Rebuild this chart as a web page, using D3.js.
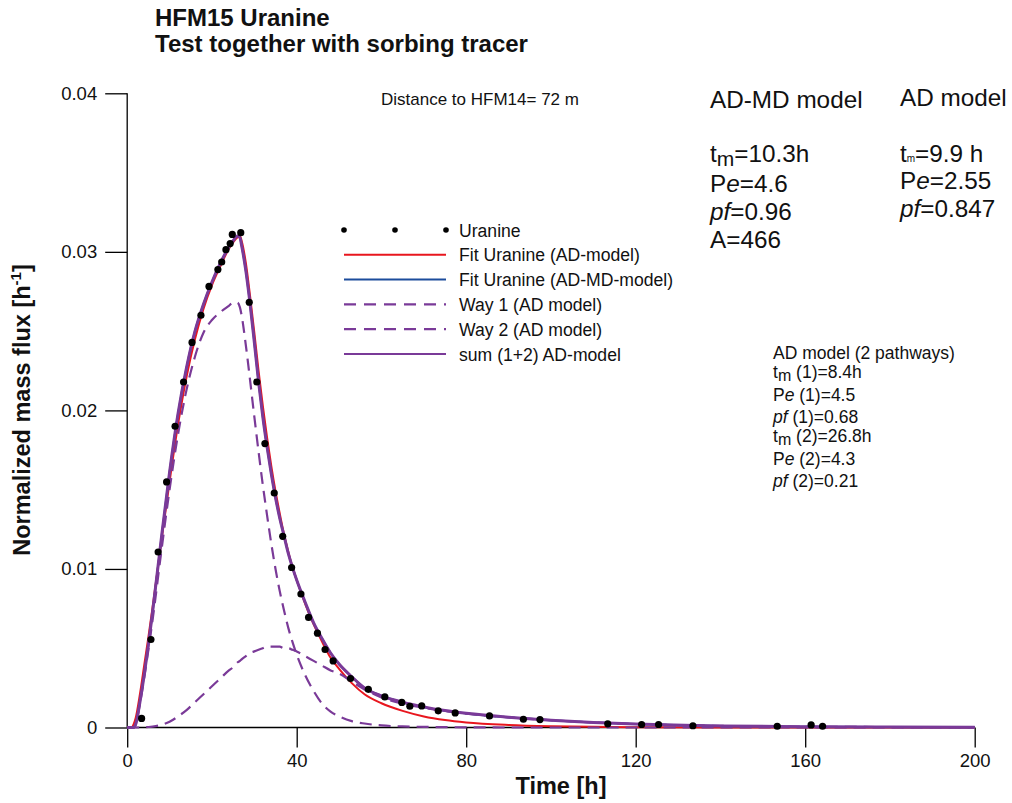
<!DOCTYPE html>
<html>
<head>
<meta charset="utf-8">
<script src="https://cdn.jsdelivr.net/npm/d3@7"></script>
<style>
  html, body { margin: 0; padding: 0; background: #fff; }
  svg { display: block; font-family: Arial, "Liberation Sans", sans-serif; }
</style>
</head>
<body>
<svg id="chart" width="1012" height="803"></svg>
<script>
// Measured uranine breakthrough (time in h, normalized mass flux in 1/h)
const obsTime = [3.4, 5.6, 7.3, 9.3, 11.3, 13.3, 15.3, 17.4, 19.3, 21.4, 22.3, 23.3, 24.3, 24.8, 26.8,
  28.8, 30.6, 32.5, 34.7, 36.7, 38.8, 41.0, 42.8, 44.9, 46.7, 48.6, 52.7, 56.9, 60.8, 64.8,
  66.7, 69.5, 73.4, 77.4, 85.5, 93.5, 97.4, 113.4, 121.4, 125.4, 133.5, 153.4, 161.4, 164.1];
const obsFlux = [0.00057, 0.00555, 0.01107, 0.01549, 0.0190, 0.02179, 0.02429, 0.0260, 0.02782, 0.02888,
  0.02936, 0.03014, 0.03052, 0.0311, 0.03121, 0.02682, 0.02179, 0.01791, 0.01479, 0.01206, 0.01009,
  0.00842, 0.00694, 0.00595, 0.00492, 0.0042, 0.00309, 0.00241, 0.00193, 0.00158, 0.00134, 0.00136,
  0.00105, 0.00092, 0.00073, 0.00052, 0.0005, 0.00023, 0.00019, 0.00019, 0.00011, 0.00008, 0.00016, 0.00008];

// Model curves, sampled on a common time grid (h)
const modelTime = [0, 1, 1.5, 2, 3, 4, 5, 6, 8, 10, 12, 14, 16, 18, 20, 22, 24, 25, 26, 26.6, 27, 28, 29, 30,
  31, 32, 33, 34, 35, 36, 37, 38, 39, 40, 42, 44, 46, 48, 50, 53, 56, 60, 65, 70, 75, 80, 90, 100,
  110, 120, 140, 160, 180, 200];
const fitAD = [0, 0, 0.0002, 0.0006, 0.0021, 0.0039, 0.0057, 0.0076, 0.0116, 0.0155, 0.0191, 0.0221, 0.0245,
  0.0264, 0.0279, 0.0291, 0.0302, 0.0306, 0.0309, 0.0310, 0.0307, 0.0293, 0.0272, 0.0249, 0.0225, 0.0203,
  0.0183, 0.0165, 0.0149, 0.0135, 0.0122, 0.0111, 0.0101, 0.0093, 0.0078, 0.0065, 0.0054, 0.0044, 0.0037,
  0.0028, 0.0021, 0.00153, 0.00105, 0.0007, 0.00047, 0.00032, 0.00016, 0.00008, 0.00004, 0.00002, 0, 0, 0, 0];
const fitADMD = [0, 0, 0, 0.0002, 0.0016, 0.0033, 0.0052, 0.0073, 0.0118, 0.0161, 0.0198, 0.0227, 0.0250,
  0.0267, 0.0281, 0.0293, 0.0303, 0.0307, 0.0310, 0.0309, 0.0304, 0.0288, 0.0267, 0.0243, 0.0218, 0.0196,
  0.0177, 0.0160, 0.0145, 0.0132, 0.0121, 0.0110, 0.0101, 0.0093, 0.0079, 0.0066, 0.0056, 0.0047, 0.0040,
  0.0032, 0.0025, 0.0020, 0.00158, 0.00128, 0.00105, 0.00089, 0.00064, 0.00046, 0.00032, 0.00022,
  0.0001, 0.00005, 0.00003, 0.00002];
const way1 = [0, 0, 0, 0.0002, 0.0015, 0.0031, 0.0049, 0.0068, 0.0110, 0.0150, 0.0185, 0.0213, 0.0234,
  0.0249, 0.0257, 0.0262, 0.0266, 0.0268, 0.0268, 0.0265, 0.0260, 0.0241, 0.0219, 0.0196, 0.0174, 0.0153,
  0.0134, 0.0116, 0.0100, 0.0086, 0.0074, 0.0063, 0.0054, 0.0046, 0.0033, 0.0023, 0.0015, 0.0010, 0.0007,
  0.0004, 0.00025, 0.00013, 0.00007, 0.00004, 0.00002, 0.00001, 0, 0, 0, 0, 0, 0, 0, 0];
const way2 = [0, 0, 0, 0, 0, 0.00001, 0.00003, 0.00006, 0.00016, 0.00036, 0.0007, 0.0011, 0.0016, 0.0021,
  0.0026, 0.0031, 0.0036, 0.0038, 0.0041, 0.0042, 0.0043, 0.0045, 0.0047, 0.0048, 0.0049, 0.0050, 0.0051,
  0.0051, 0.0051, 0.0051, 0.0050, 0.0050, 0.0049, 0.0048, 0.0045, 0.0042, 0.0039, 0.0036, 0.0034, 0.0029,
  0.0024, 0.0019, 0.0015, 0.00125, 0.00104, 0.00088, 0.00064, 0.00046, 0.00032, 0.00022, 0.0001, 0.00005,
  0.00003, 0.00002];
const sum12 = [0, 0, 0, 0.0002, 0.0016, 0.0033, 0.0052, 0.0073, 0.0118, 0.0161, 0.0198, 0.0227, 0.0250,
  0.0267, 0.0281, 0.0293, 0.0303, 0.0307, 0.0310, 0.0309, 0.0304, 0.0288, 0.0267, 0.0243, 0.0218, 0.0196,
  0.0177, 0.0160, 0.0145, 0.0132, 0.0121, 0.0110, 0.0101, 0.0093, 0.0079, 0.0066, 0.0056, 0.0047, 0.0040,
  0.0032, 0.0025, 0.0020, 0.00160, 0.00130, 0.00107, 0.00090, 0.00065, 0.00046, 0.00032, 0.00022,
  0.0001, 0.00005, 0.00003, 0.00002];

// Axis ticks
const xMajorTicks = [0, 40, 80, 120, 160, 200];
const xMinorTicks = [20, 60, 100, 140, 180];
const yMajorTicks = [0, 0.01, 0.02, 0.03, 0.04];
const yMinorTicks = [0.005, 0.015, 0.025, 0.035];
const yTickLabels = ["0", "0.01", "0.02", "0.03", "0.04"];

const legendLabels = ["Uranine", "Fit Uranine (AD-model)", "Fit Uranine (AD-MD-model)",
  "Way 1 (AD model)", "Way 2 (AD model)", "sum (1+2) AD-model"];

const RED = "#e8161e", BLUE = "#1c4c9c", PURPLE = "#7a3a98";

const svg = d3.select("#chart");
const x = d3.scaleLinear().domain([0, 200]).range([127.2, 974.7]);
const y = d3.scaleLinear().domain([0, 0.04]).range([727.5, 93.3]);

// ---- axes ----
const axisFont = "18.5px";
const gx = svg.append("g").attr("transform", `translate(0,${y(0)})`);
gx.call(d3.axisBottom(x).tickValues(xMinorTicks).tickSize(10).tickFormat(""));
gx.call(d3.axisBottom(x).tickValues(xMajorTicks).tickSize(20).tickPadding(6).tickFormat(d3.format("d")));
gx.selectAll(".domain").remove();
gx.append("line").attr("x1", x(0)).attr("x2", x(200)).attr("stroke", "#000").attr("stroke-width", 1.3);

const gy = svg.append("g").attr("transform", `translate(${x(0)},0)`);
gy.call(d3.axisLeft(y).tickValues(yMinorTicks).tickSize(10).tickFormat(""));
gy.call(d3.axisLeft(y).tickValues(yMajorTicks).tickSize(22).tickPadding(8)
  .tickFormat((d, i) => yTickLabels[i]));
gy.selectAll(".domain").remove();
gy.append("line").attr("y1", y(0)).attr("y2", y(0.04)).attr("stroke", "#000").attr("stroke-width", 1.3);

svg.selectAll(".tick line").attr("stroke", "#000").attr("stroke-width", 1.3);
svg.selectAll(".tick text").attr("font-size", axisFont).attr("fill", "#111")
  .attr("font-family", "Arial, 'Liberation Sans', sans-serif");

// ---- curves ----
const line = vals => d3.line()
  .x((d, i) => x(modelTime[i]))
  .y(d => y(d))
  .curve(d3.curveMonotoneX)(vals);

const plot = svg.append("g");
plot.append("path").attr("d", line(fitAD)).attr("fill", "none").attr("stroke", RED).attr("stroke-width", 2);
plot.append("path").attr("d", line(fitADMD)).attr("fill", "none").attr("stroke", BLUE).attr("stroke-width", 2);
plot.append("path").attr("d", line(way1)).attr("fill", "none").attr("stroke", PURPLE)
  .attr("stroke-width", 2.2).attr("stroke-dasharray", "12,7");
plot.append("path").attr("d", line(way2)).attr("fill", "none").attr("stroke", PURPLE)
  .attr("stroke-width", 2.2).attr("stroke-dasharray", "12,7");
plot.append("path").attr("d", line(sum12)).attr("fill", "none").attr("stroke", PURPLE).attr("stroke-width", 3);

plot.selectAll("circle.obs").data(obsTime).enter().append("circle")
  .attr("class", "obs")
  .attr("cx", d => x(d))
  .attr("cy", (d, i) => y(obsFlux[i]))
  .attr("r", 3.6).attr("fill", "#000");

// ---- legend ----
const lg = svg.append("g");
const lgX0 = 344, lgX1 = 446, lgY0 = 230, lgDY = 24.8;
lg.selectAll("circle").data([lgX0, 395, lgX1]).enter().append("circle")
  .attr("cx", d => d).attr("cy", lgY0).attr("r", 2.8).attr("fill", "#000");
const lgStyles = [null,
  { c: RED, w: 2, dash: null },
  { c: BLUE, w: 2, dash: null },
  { c: PURPLE, w: 2.2, dash: "12,8" },
  { c: PURPLE, w: 2.2, dash: "12,8" },
  { c: PURPLE, w: 2.2, dash: null }];
lgStyles.forEach((s, i) => {
  if (!s) return;
  lg.append("line").attr("x1", lgX0).attr("x2", lgX1)
    .attr("y1", lgY0 + i * lgDY).attr("y2", lgY0 + i * lgDY)
    .attr("stroke", s.c).attr("stroke-width", s.w)
    .attr("stroke-dasharray", s.dash);
});
lg.selectAll("text").data(legendLabels).enter().append("text")
  .attr("x", 459).attr("y", (d, i) => lgY0 + i * lgDY + 6.5)
  .attr("font-size", "17.6px").attr("fill", "#111").text(d => d);

// ---- titles ----
svg.append("text").attr("x", 155).attr("y", 26).attr("font-size", "24px").attr("font-weight", "bold")
  .attr("fill", "#111").text("HFM15 Uranine");
svg.append("text").attr("x", 155).attr("y", 52).attr("font-size", "24px").attr("font-weight", "bold")
  .attr("fill", "#111").text("Test together with sorbing tracer");

svg.append("text").attr("x", 561).attr("y", 794).attr("text-anchor", "middle")
  .attr("font-size", "23.5px").attr("font-weight", "bold").attr("fill", "#111").text("Time [h]");

const yt = svg.append("text").attr("transform", "translate(30,410) rotate(-90)")
  .attr("text-anchor", "middle").attr("font-size", "23.5px").attr("font-weight", "bold").attr("fill", "#111");
yt.append("tspan").text("Normalized mass flux [h");
yt.append("tspan").attr("font-size", "15px").attr("dy", -9).text("-1");
yt.append("tspan").attr("dy", 9).text("]");

svg.append("text").attr("x", 381).attr("y", 105).attr("font-size", "17px").attr("fill", "#111")
  .text("Distance to HFM14= 72 m");

// ---- parameter annotations ----
function richLine(xp, yp, size, parts) {
  const t = svg.append("text").attr("x", xp).attr("y", yp).attr("font-size", size + "px").attr("fill", "#111");
  parts.forEach(p => {
    const s = t.append("tspan").text(p.t);
    if (p.i) s.attr("font-style", "italic");
    if (p.dy) s.attr("dy", p.dy);
    if (p.fs) s.attr("font-size", p.fs + "px");
  });
  return t;
}

// AD-MD model
const colSize = 24.3;
richLine(710, 108, colSize, [{ t: "AD-MD model" }]);
richLine(710, 162, colSize, [{ t: "t" }, { t: "m", dy: 4, fs: 21 }, { t: "=10.3h", dy: -4 }]);
richLine(710, 192, colSize, [{ t: "P" }, { t: "e", i: true }, { t: "=4.6" }]);
richLine(710, 220, colSize, [{ t: "pf", i: true }, { t: "=0.96" }]);
richLine(710, 248, colSize, [{ t: "A=466" }]);

// AD model
richLine(900, 106, colSize, [{ t: "AD model" }]);
richLine(900, 162, colSize, [{ t: "t" }, { t: "m", fs: 10 }, { t: "=9.9 h" }]);
richLine(900, 189, colSize, [{ t: "P" }, { t: "e", i: true }, { t: "=2.55" }]);
richLine(900, 217, colSize, [{ t: "pf", i: true }, { t: "=0.847" }]);

// AD model, two pathways
const pwX = 773, pwSize = 17.5;
richLine(pwX, 359, pwSize, [{ t: "AD model (2 pathways)" }]);
richLine(pwX, 378, pwSize, [{ t: "t" }, { t: "m", dy: 3, fs: 16 }, { t: " (1)=8.4h", dy: -3 }]);
richLine(pwX, 401, pwSize, [{ t: "P" }, { t: "e", i: true }, { t: " (1)=4.5" }]);
richLine(pwX, 423, pwSize, [{ t: "pf", i: true }, { t: " (1)=0.68" }]);
richLine(pwX, 442, pwSize, [{ t: "t" }, { t: "m", dy: 3, fs: 16 }, { t: " (2)=26.8h", dy: -3 }]);
richLine(pwX, 465, pwSize, [{ t: "P" }, { t: "e", i: true }, { t: " (2)=4.3" }]);
richLine(pwX, 487, pwSize, [{ t: "pf", i: true }, { t: " (2)=0.21" }]);
</script>
</body>
</html>
